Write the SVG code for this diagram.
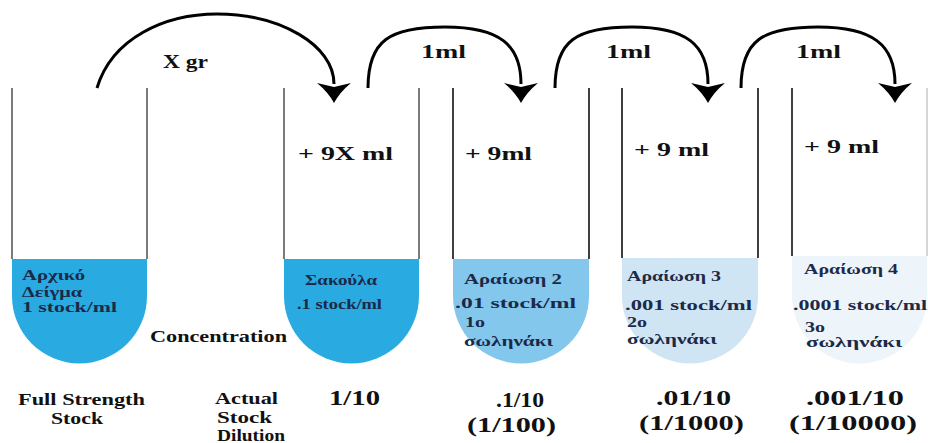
<svg xmlns="http://www.w3.org/2000/svg" width="928" height="443" viewBox="0 0 928 443" font-family="'Liberation Serif', 'DejaVu Serif', 'Times New Roman', serif">
<style>
  text { font-family: 'Liberation Serif', 'DejaVu Serif', 'Times New Roman', serif; font-weight: bold; fill: #111; }
  .top { font-size: 18px; }
  .add { font-size: 19px; }
  .liq { font-size: 14px; fill: #1c2a48; }
  .liq14 { font-size: 15px; fill: #1c2a48; }
  .bot { font-size: 16px; }
  .ratio { font-size: 21px; }
  .wall { stroke: #444; stroke-width: 1.4; fill: none; }
  .wall-dark { stroke: #111; stroke-width: 1.6; fill: none; }
  .arc { stroke: #000; stroke-width: 3; fill: none; marker-end: url(#head); }
</style>
<defs>
  <marker id="head" markerUnits="userSpaceOnUse" viewBox="-2 -18 22 36" markerWidth="22" markerHeight="36" refX="0" refY="0" orient="auto" overflow="visible">
    <path d="M-1,-17 Q8,-6 19,0 Q8,6 -1,17 L3,0 Z" fill="#000"/>
  </marker>
</defs>
<rect width="928" height="443" fill="#fff"/>

<g id="tube1">
  <path d="M12,259 H147 V296 A67.5,67.5 0 0 1 12,296 Z" fill="#29abe2"/>
  <path class="wall" d="M12,88 V259 M147,88 V259"/>
  <text class="liq" x="22" y="280" textLength="63" lengthAdjust="spacingAndGlyphs">Αρχικό</text>
  <text class="liq" x="22" y="297" textLength="60" lengthAdjust="spacingAndGlyphs">Δείγμα</text>
  <text class="liq" x="22" y="312" textLength="95" lengthAdjust="spacingAndGlyphs">1 stock/ml</text>
</g>

<g id="tube2">
  <path d="M284,259 H419 V296 A67.5,67.5 0 0 1 284,296 Z" fill="#29abe2"/>
  <path class="wall" d="M284,88 V259 M419,88 V259"/>
  <text class="add" x="298" y="160" textLength="95" lengthAdjust="spacingAndGlyphs">+ 9X ml</text>
  <text class="liq" x="305" y="285" textLength="72" lengthAdjust="spacingAndGlyphs">Σακούλα</text>
  <text class="liq" x="297" y="309" textLength="85" lengthAdjust="spacingAndGlyphs">.1 stock/ml</text>
</g>

<g id="tube3">
  <path d="M453,259 H589 V296 A68,67.5 0 0 1 453,296 Z" fill="#84c7ec"/>
  <path class="wall-dark" d="M453,88 V259 M589,88 V259"/>
  <text class="add" x="465" y="160" textLength="67" lengthAdjust="spacingAndGlyphs">+ 9ml</text>
  <text class="liq14" x="464" y="284" textLength="98" lengthAdjust="spacingAndGlyphs">Αραίωση 2</text>
  <text class="liq14" x="455" y="308" textLength="121" lengthAdjust="spacingAndGlyphs">.01 stock/ml</text>
  <text class="liq14" x="465" y="327" textLength="20" lengthAdjust="spacingAndGlyphs">1ο</text>
  <text class="liq" x="464" y="346" textLength="89" lengthAdjust="spacingAndGlyphs">σωληνάκι</text>
</g>

<g id="tube4">
  <path d="M622,258 H758 V296 A68,67.5 0 0 1 622,296 Z" fill="#cfe5f3"/>
  <path class="wall-dark" d="M622,88 V258 M758,88 V258"/>
  <text class="add" x="634" y="156" textLength="75" lengthAdjust="spacingAndGlyphs">+ 9 ml</text>
  <text class="liq14" x="627" y="281" textLength="94" lengthAdjust="spacingAndGlyphs">Αραίωση 3</text>
  <text class="liq14" x="625" y="310" textLength="127" lengthAdjust="spacingAndGlyphs">.001 stock/ml</text>
  <text class="liq14" x="627" y="327" textLength="20" lengthAdjust="spacingAndGlyphs">2ο</text>
  <text class="liq" x="627" y="344" textLength="90" lengthAdjust="spacingAndGlyphs">σωληνάκι</text>
</g>

<g id="tube5">
  <path d="M792,256 H927 V296 A67.5,67.5 0 0 1 792,296 Z" fill="#edf4fa"/>
  <path class="wall-dark" d="M792,88 V256"/>
  <path d="M927,88 V256" stroke="#bbb" stroke-width="1.2"/>
  <text class="add" x="804" y="153" textLength="75" lengthAdjust="spacingAndGlyphs">+ 9 ml</text>
  <text class="liq14" x="804" y="274" textLength="94" lengthAdjust="spacingAndGlyphs">Αραίωση 4</text>
  <text class="liq14" x="793" y="310" textLength="134" lengthAdjust="spacingAndGlyphs">.0001 stock/ml</text>
  <text class="liq14" x="805" y="332" textLength="20" lengthAdjust="spacingAndGlyphs">3ο</text>
  <text class="liq" x="806" y="347" textLength="96" lengthAdjust="spacingAndGlyphs">σωληνάκι</text>
</g>

<g id="connectors">
  <path class="arc" d="M97,88 C112,38 165,14 217,14 C280,14 334,45 334,84"/>
  <path class="arc" d="M368,88 C368,40 390,27 445,27 C500,27 521,45 521,84"/>
  <path class="arc" d="M555,88 C555,40 577,27 632,27 C687,27 708,45 708,84"/>
  <path class="arc" d="M741,88 C741,40 763,27 818,27 C873,27 895,45 895,84"/>
  <text class="top" x="163" y="68" textLength="45" lengthAdjust="spacingAndGlyphs">X gr</text>
  <text class="top" x="421" y="58" textLength="45" lengthAdjust="spacingAndGlyphs">1ml</text>
  <text class="top" x="606" y="58" textLength="45" lengthAdjust="spacingAndGlyphs">1ml</text>
  <text class="top" x="796" y="58" textLength="45" lengthAdjust="spacingAndGlyphs">1ml</text>
</g>

<g id="labels">
  <text class="bot" x="150" y="342" textLength="137" lengthAdjust="spacingAndGlyphs">Concentration</text>
  <text class="bot" x="18" y="405" textLength="127" lengthAdjust="spacingAndGlyphs">Full Strength</text>
  <text class="bot" x="51" y="424" textLength="52" lengthAdjust="spacingAndGlyphs">Stock</text>
  <text class="bot" x="215" y="404" textLength="63" lengthAdjust="spacingAndGlyphs">Actual</text>
  <text class="bot" x="217" y="423" textLength="55" lengthAdjust="spacingAndGlyphs">Stock</text>
  <text class="bot" x="217" y="441" textLength="68" lengthAdjust="spacingAndGlyphs">Dilution</text>
  <text class="ratio" x="329" y="405" textLength="51" lengthAdjust="spacingAndGlyphs">1/10</text>
  <text class="ratio" x="496" y="407" textLength="48" lengthAdjust="spacingAndGlyphs">.1/10</text>
  <text class="ratio" x="467" y="432" textLength="89" lengthAdjust="spacingAndGlyphs">(1/100)</text>
  <text class="ratio" x="656" y="405" textLength="75" lengthAdjust="spacingAndGlyphs">.01/10</text>
  <text class="ratio" x="639" y="430" textLength="105" lengthAdjust="spacingAndGlyphs">(1/1000)</text>
  <text class="ratio" x="806" y="405" textLength="98" lengthAdjust="spacingAndGlyphs">.001/10</text>
  <text class="ratio" x="789" y="430" textLength="128" lengthAdjust="spacingAndGlyphs">(1/10000)</text>
</g>
</svg>
